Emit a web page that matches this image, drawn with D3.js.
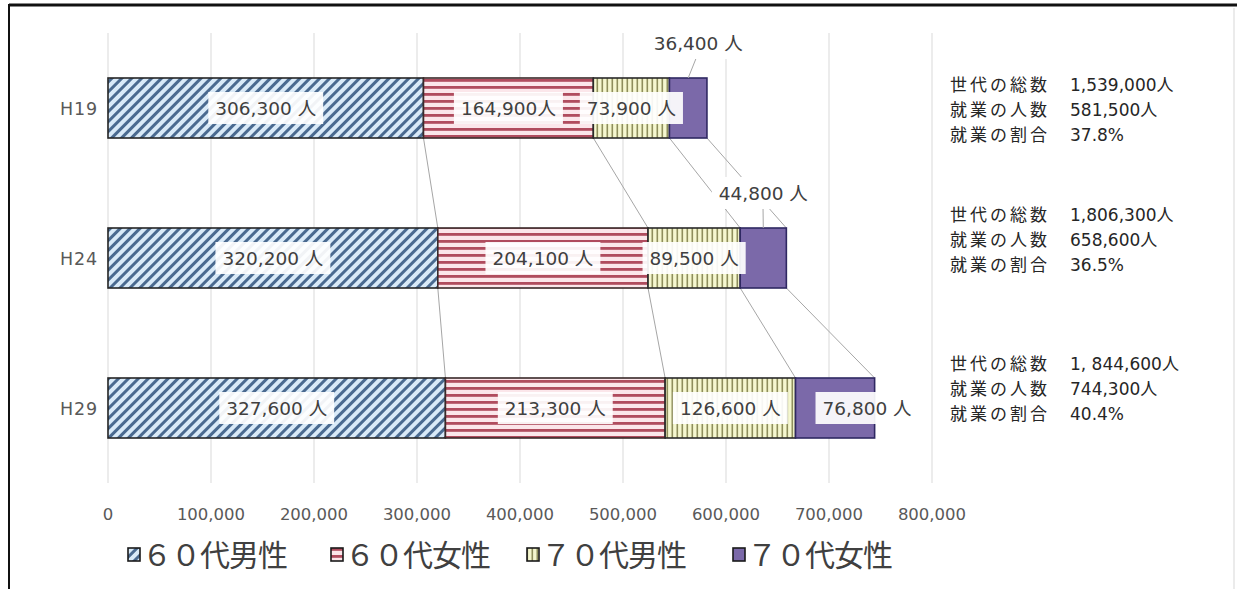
<!DOCTYPE html>
<html><head><meta charset="utf-8">
<script src="https://cdn.jsdelivr.net/npm/d3@7/dist/d3.min.js"></script>
<style>body{margin:0;background:#fff;overflow:hidden}</style>
</head><body><svg id="c" width="1237" height="589"></svg>
<script>
// ---- data ----
const categories = ["H19", "H24", "H29"];
const seriesNames = ["６０代男性", "６０代女性", "７０代男性", "７０代女性"];
const male60 = [306300, 320200, 327600];
const female60 = [164900, 204100, 213300];
const male70 = [73900, 89500, 126600];
const female70 = [36400, 44800, 76800];
const labelUnits = [[" 人", " 人", " 人"], ["人", " 人", " 人"], [" 人", " 人", " 人"], [" 人", " 人", " 人"]];
const xTicks = [0, 100000, 200000, 300000, 400000, 500000, 600000, 700000, 800000];
const infoHeads = ["世代の総数", "就業の人数", "就業の割合"];
const totalPop = ["1,539,000人", "1,806,300人", "1, 844,600人"];
const employed = ["581,500人", "658,600人", "744,300人"];
const ratio = ["37.8%", "36.5%", "40.4%"];

// ---- layout ----
const svg = d3.select("#c");
const W = 1237, H = 589;
const plot = {left: 108, right: 932, top: 33, bottom: 483};
const x = d3.scaleLinear().domain([0, 800000]).range([plot.left, plot.right]);
const y = d3.scaleBand().domain(categories).range([plot.top, plot.bottom]).paddingInner(0.6).paddingOuter(0.3);
const bw = y.bandwidth();

const rows = categories.map((c, i) => ({cat: c, s0: male60[i], s1: female60[i], s2: male70[i], s3: female70[i]}));
const keys = ["s0", "s1", "s2", "s3"];
const stack = d3.stack().keys(keys)(rows);

// patterns
const defs = svg.append("defs");
const p0 = defs.append("pattern").attr("id", "p0").attr("patternUnits", "userSpaceOnUse")
  .attr("width", 7).attr("height", 7).attr("patternTransform", "rotate(45)");
p0.append("rect").attr("width", 7).attr("height", 7).attr("fill", "#d9eaf8");
p0.append("rect").attr("width", 3).attr("height", 7).attr("fill", "#4a6a90");

const p1 = defs.append("pattern").attr("id", "p1").attr("patternUnits", "userSpaceOnUse")
  .attr("width", 8).attr("height", 7);
p1.append("rect").attr("width", 8).attr("height", 7).attr("fill", "#fbe6ea");
p1.append("rect").attr("y", 2).attr("width", 8).attr("height", 2.8).attr("fill", "#b04c5e");

const p2 = defs.append("pattern").attr("id", "p2").attr("patternUnits", "userSpaceOnUse")
  .attr("width", 5).attr("height", 8);
p2.append("rect").attr("width", 5).attr("height", 8).attr("fill", "#f5f7cf");
p2.append("rect").attr("x", 1.5).attr("width", 1.6).attr("height", 8).attr("fill", "#8e8e5c");

const fills = ["url(#p0)", "url(#p1)", "url(#p2)", "#7b69a9"];
const strokes = ["#262626", "#3a2a2a", "#2a2a2a", "#2f2862"];

// background
svg.append("rect").attr("width", W).attr("height", H).attr("fill", "#fff");
svg.append("line").attr("x1", 1234).attr("x2", 1234).attr("y1", 8).attr("y2", H).attr("stroke", "#e4e4e4").attr("stroke-width", 1.5);

// gridlines
svg.append("g").selectAll("line").data(xTicks).join("line")
  .attr("x1", d => x(d)).attr("x2", d => x(d))
  .attr("y1", plot.top).attr("y2", plot.bottom)
  .attr("stroke", "#d9d9d9").attr("stroke-width", 1);

// tick labels
svg.append("g").selectAll("text").data(xTicks).join("text")
  .attr("x", d => x(d)).attr("y", 520)
  .attr("text-anchor", "middle")
  .attr("font-family", "DejaVu Sans, sans-serif").attr("font-size", 16.5)
  .attr("fill", "#595959")
  .text(d => d3.format(",")(d));

// category labels
svg.append("g").selectAll("text").data(categories).join("text")
  .attr("x", 79).attr("y", d => y(d) + bw / 2 + 6.5)
  .attr("text-anchor", "middle")
  .attr("font-family", "DejaVu Sans, sans-serif").attr("font-size", 17.5)
  .attr("letter-spacing", 0.8)
  .attr("fill", "#595959")
  .text(d => d);

// series lines
const sl = svg.append("g");
stack.forEach((layer, s) => {
  for (let i = 0; i < categories.length - 1; i++) {
    sl.append("line")
      .attr("x1", x(layer[i][1])).attr("y1", y(categories[i]) + bw)
      .attr("x2", x(layer[i + 1][1])).attr("y2", y(categories[i + 1]))
      .attr("stroke", "#a6a6a6").attr("stroke-width", 1);
  }
});

// bars
const bars = svg.append("g");
stack.forEach((layer, s) => {
  bars.append("g").selectAll("rect").data(layer).join("rect")
    .attr("x", d => x(d[0])).attr("width", d => x(d[1]) - x(d[0]))
    .attr("y", d => y(d.data.cat)).attr("height", bw)
    .attr("fill", fills[s]).attr("stroke", strokes[s]).attr("stroke-width", 1.6);
});

// data labels
const labelOffsets = {
  "3-0": {dx: 10, dy: -65, box: false, lx1: 697, ly1: 56},
  "3-1": {dx: 0, dy: -65, box: false, lx1: 763, ly1: 206},
  "3-2": {dx: 32, dy: 0, box: true}
};
const lg = svg.append("g");
stack.forEach((layer, s) => {
  layer.forEach((d, i) => {
    const key = s + "-" + i;
    const off = labelOffsets[key] || {dx: 0, dy: 0, box: true};
    const cx = (x(d[0]) + x(d[1])) / 2 + off.dx;
    const cy = y(d.data.cat) + bw / 2 + off.dy;
    const txt = d3.format(",")(d[1] - d[0]) + labelUnits[s][i];
    if (off.lx1 !== undefined) {
      lg.append("line").attr("x1", off.lx1).attr("y1", off.ly1)
        .attr("x2", (x(d[0]) + x(d[1])) / 2).attr("y2", y(d.data.cat))
        .attr("stroke", "#a6a6a6").attr("stroke-width", 1);
    }
    const g = lg.append("g");
    const t = g.append("text").attr("x", cx).attr("y", cy + 7)
      .attr("text-anchor", "middle")
      .attr("font-family", "DejaVu Sans, 'Noto Sans CJK JP', sans-serif").attr("font-size", 18.5)
      .attr("fill", "#404040").text(txt);
    const bb = t.node().getBBox();
    g.insert("rect", "text").attr("x", bb.x - 7).attr("y", cy - 16)
      .attr("width", bb.width + 14).attr("height", 32)
      .attr("fill", "#fff").attr("fill-opacity", off.box ? 0.92 : 1);
  });
});

// info text blocks
const blockMid = [110, 240, 389];
const lineGap = 24.8;
categories.forEach((c, i) => {
  const vals = [totalPop[i], employed[i], ratio[i]];
  const t = svg.append("g").attr("font-size", 17).attr("fill", "#262626");
  infoHeads.forEach((h, r) => {
    const yy = blockMid[i] + (r - 1) * lineGap + 6;
    t.append("text").attr("x", 950).attr("y", yy)
      .attr("font-family", "'Noto Sans CJK JP', sans-serif").attr("letter-spacing", 3).text(h);
    t.append("text").attr("x", 1070).attr("y", yy)
      .attr("font-family", "DejaVu Sans, 'Noto Sans CJK JP', sans-serif").text(vals[r]);
  });
});

// legend
const leg = svg.append("g");
const legX = [128, 331, 527, 733];
seriesNames.forEach((n, s) => {
  leg.append("rect").attr("x", legX[s]).attr("y", 548).attr("width", 12).attr("height", 13)
    .attr("fill", fills[s]).attr("stroke", "#1a1a1a").attr("stroke-width", 1.6);
  leg.append("text").attr("x", legX[s] + 14).attr("y", 566)
    .attr("font-family", "'Noto Sans CJK JP', sans-serif").attr("font-size", 30)
    .attr("letter-spacing", -1)
    .attr("fill", "#404040").text(n);
});

// outer frame
svg.append("line").attr("x1", 9).attr("x2", W).attr("y1", 5).attr("y2", 5).attr("stroke", "#111").attr("stroke-width", 3);
svg.append("line").attr("x1", 9).attr("x2", 9).attr("y1", 4).attr("y2", H).attr("stroke", "#111").attr("stroke-width", 2);
</script></body></html>
